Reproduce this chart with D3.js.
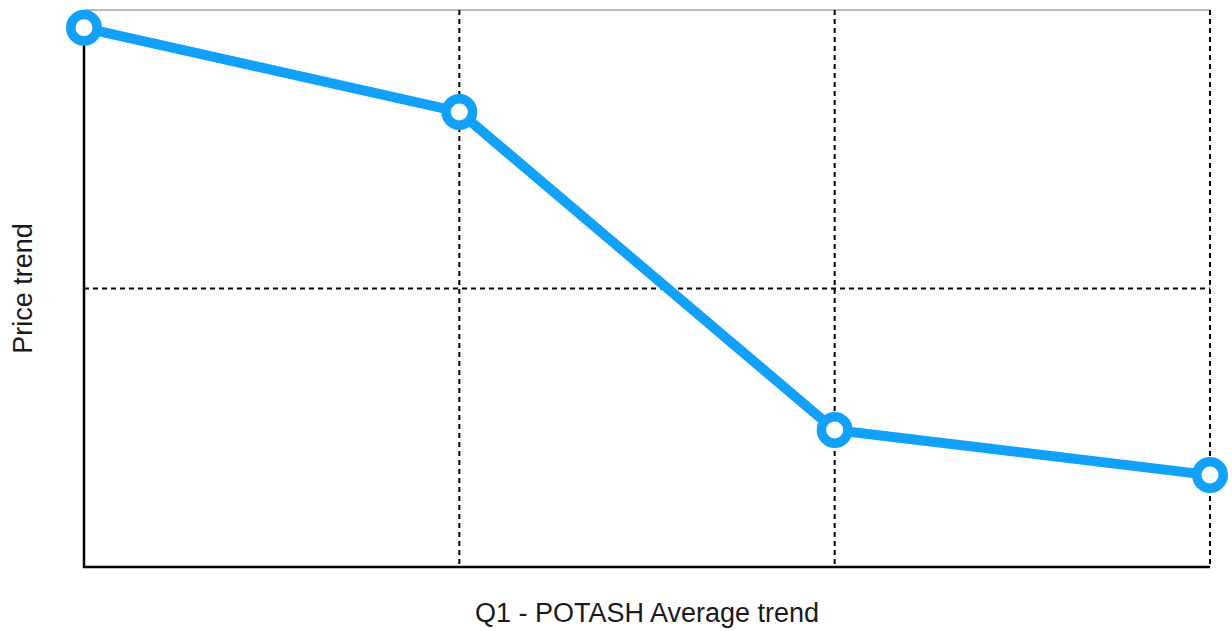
<!DOCTYPE html>
<html><head><meta charset="utf-8">
<script src="https://cdn.jsdelivr.net/npm/d3@7"></script>
<style>body{margin:0;background:#fff}svg{display:block}</style>
</head><body>
<svg id="c" width="1232" height="631"></svg>
<script>
const categories = ["P1", "P2", "P3", "P4"];
const values = [96.8, 81.7, 24.6, 16.5];
const yGridTicks = [50];
const xTitle = "Q1 - POTASH Average trend";
const yTitle = "Price trend";

const svg = d3.select("#c");
const m = {l: 84, t: 10, r: 1210, b: 567};
const x = d3.scalePoint().domain(categories).range([m.l, m.r]);
const y = d3.scaleLinear().domain([0, 100]).range([m.b, m.t]);

// top border
svg.append("line").attr("x1", m.l).attr("x2", m.r).attr("y1", m.t).attr("y2", m.t)
  .attr("stroke", "#bbb").attr("stroke-width", 2);
// vertical dashed grid
svg.selectAll(".vg").data(categories.slice(1)).join("line")
  .attr("x1", d => x(d)).attr("x2", d => x(d)).attr("y1", m.t).attr("y2", m.b)
  .attr("stroke", "#000").attr("stroke-width", 2).attr("stroke-dasharray", "5,4");
// horizontal dashed grid
svg.selectAll(".hg").data(yGridTicks).join("line")
  .attr("x1", m.l).attr("x2", m.r).attr("y1", d => y(d)).attr("y2", d => y(d))
  .attr("stroke", "#000").attr("stroke-width", 2).attr("stroke-dasharray", "5,4");
// axes
svg.append("line").attr("x1", m.l).attr("x2", m.l).attr("y1", m.t).attr("y2", m.b + 1)
  .attr("stroke", "#000").attr("stroke-width", 2.5);
svg.append("line").attr("x1", m.l - 1).attr("x2", m.r).attr("y1", m.b).attr("y2", m.b)
  .attr("stroke", "#000").attr("stroke-width", 2.5);

const data = categories.map((c, i) => ({c, v: values[i]}));
svg.append("path").datum(data)
  .attr("d", d3.line().x(d => x(d.c)).y(d => y(d.v)))
  .attr("fill", "none").attr("stroke", "#12a1fa").attr("stroke-width", 10)
  .attr("stroke-linejoin", "round");
svg.selectAll(".pt").data(data).join("circle")
  .attr("cx", d => x(d.c)).attr("cy", d => y(d.v)).attr("r", 13.25)
  .attr("fill", "#fff").attr("stroke", "#12a1fa").attr("stroke-width", 9.5);

svg.append("text").attr("x", (m.l + m.r) / 2).attr("y", 622)
  .attr("text-anchor", "middle").attr("font-family", "Liberation Sans, Arial, sans-serif")
  .attr("font-size", 27).attr("fill", "#1a1a1a").text(xTitle);
svg.append("text").attr("transform", `translate(32,${(m.t + m.b) / 2}) rotate(-90)`)
  .attr("text-anchor", "middle").attr("font-family", "Liberation Sans, Arial, sans-serif")
  .attr("font-size", 27).attr("fill", "#1a1a1a").text(yTitle);
</script>
</body></html>
